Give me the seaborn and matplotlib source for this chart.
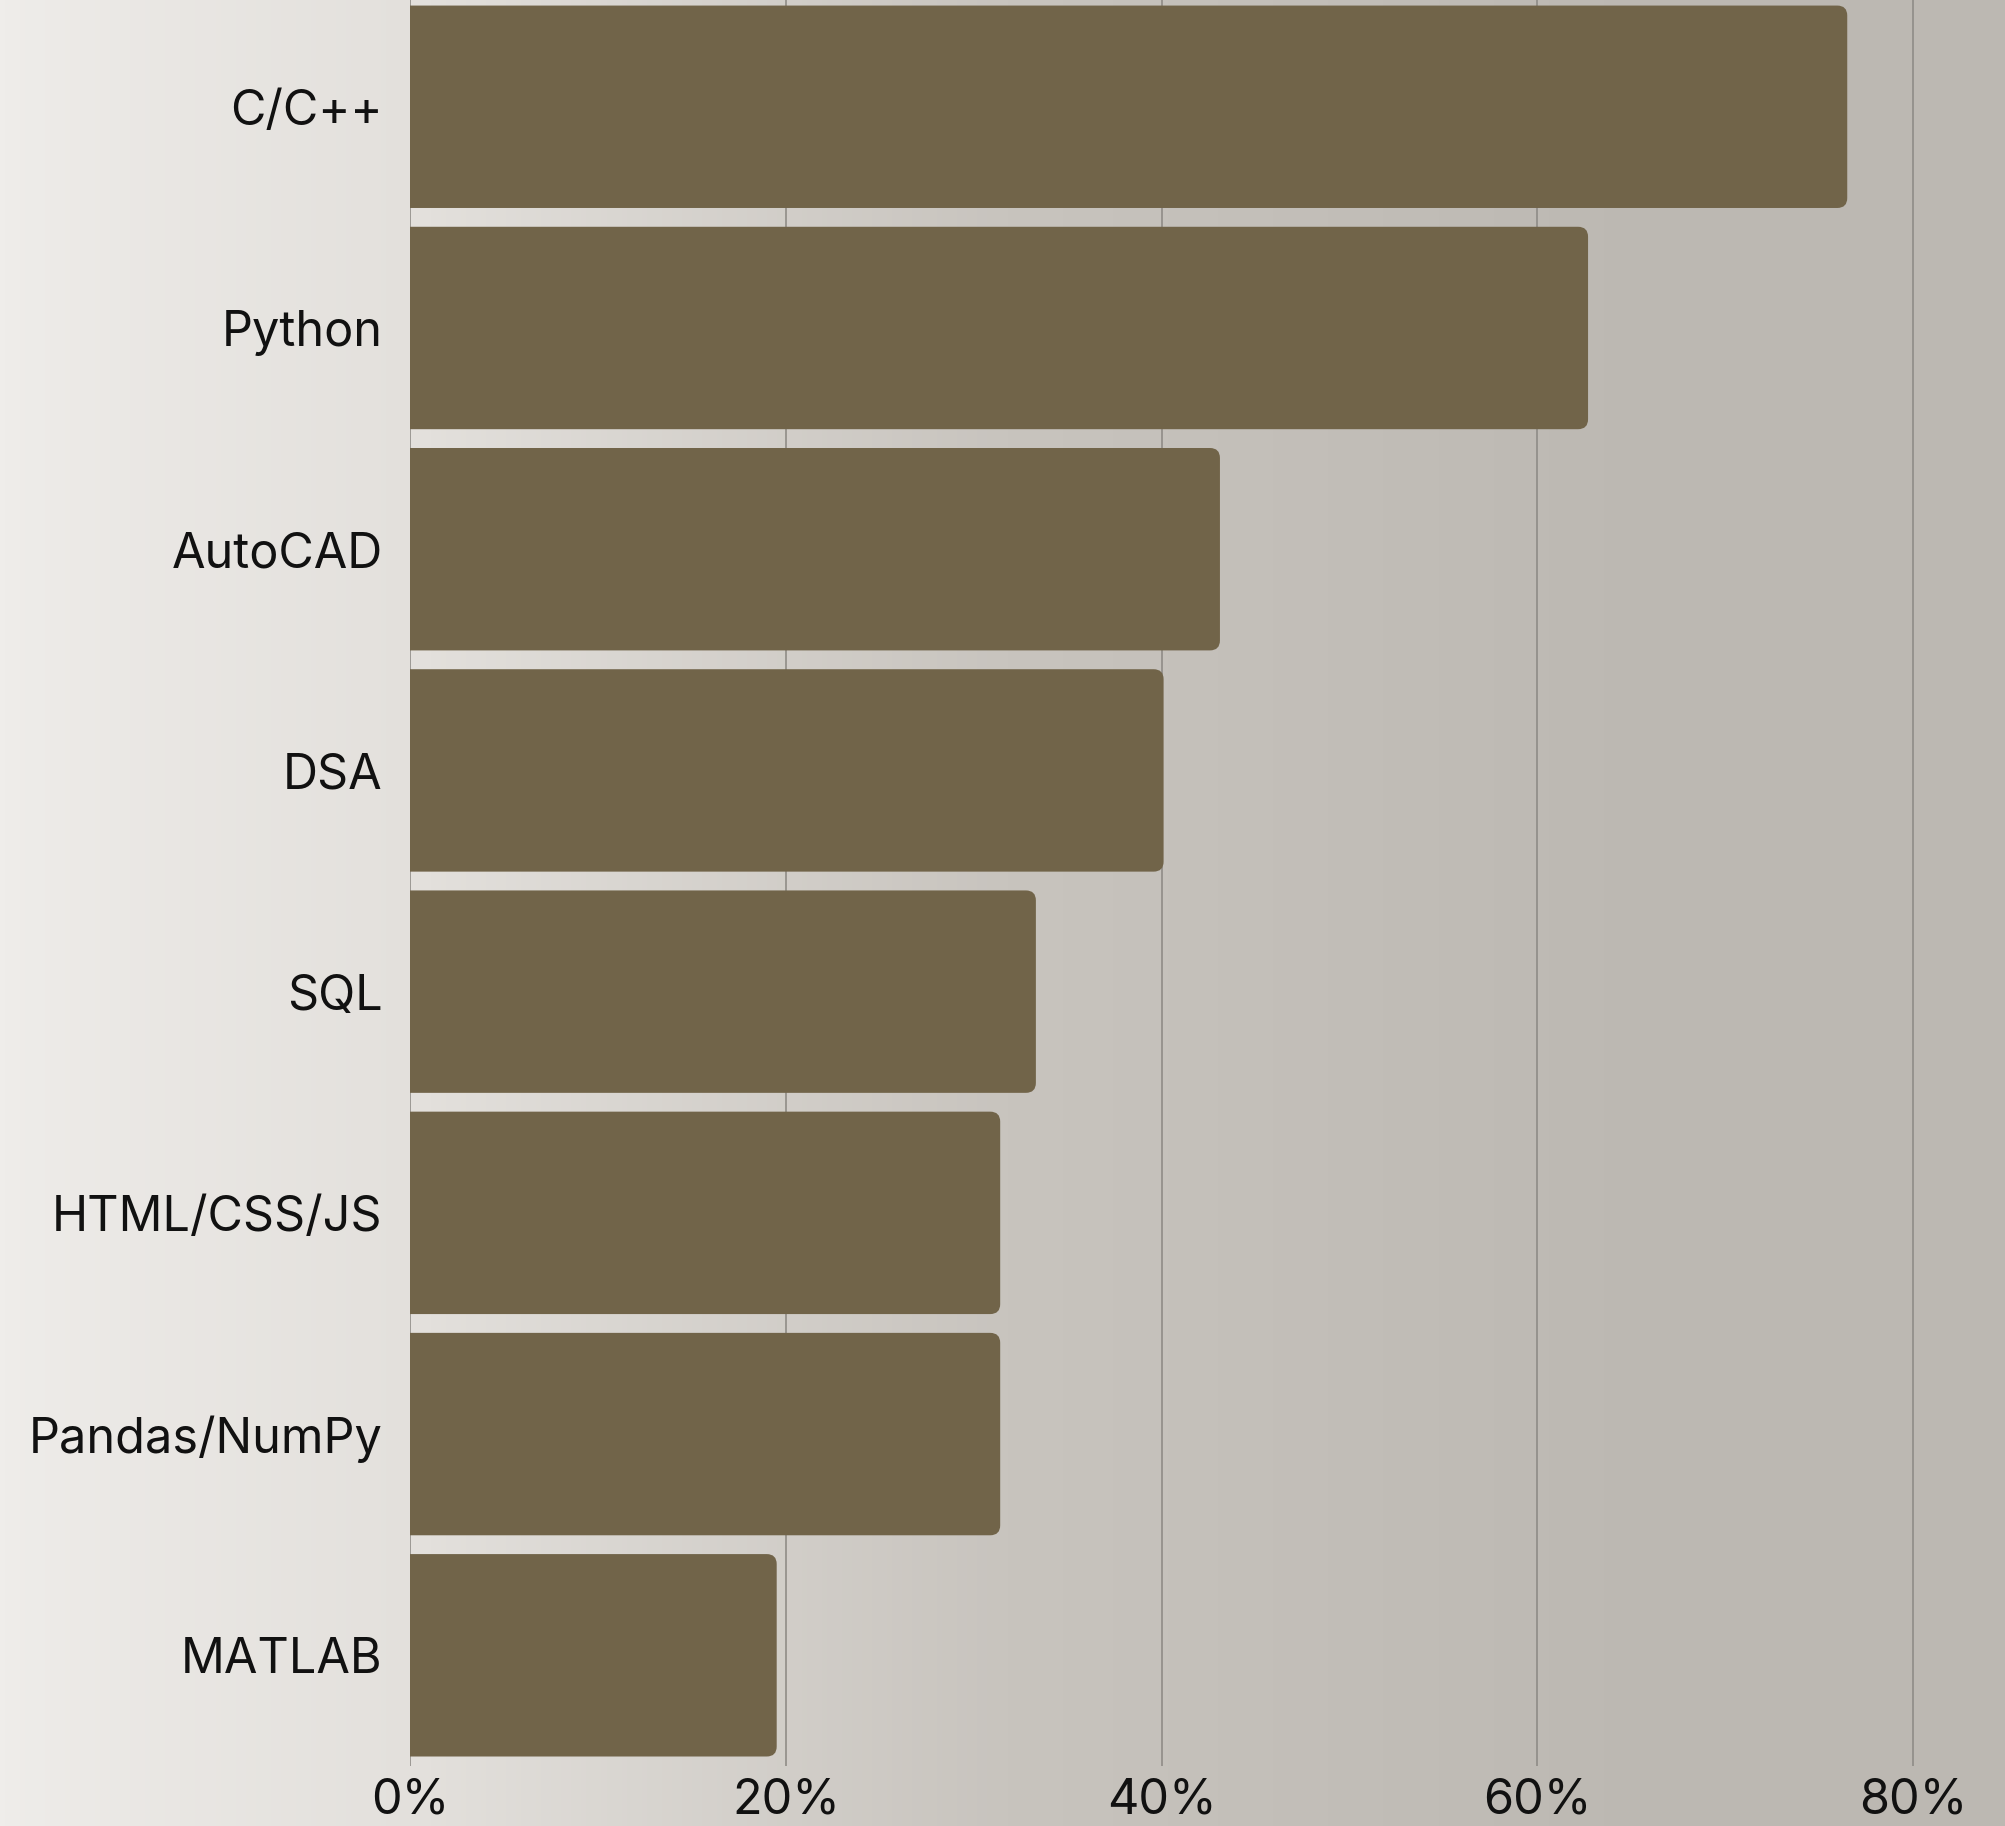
import numpy as np
import pandas as pd
import matplotlib
matplotlib.use("Agg")
import matplotlib.pyplot as plt
import seaborn as sns
from matplotlib.patches import FancyBboxPatch
from matplotlib.colors import LinearSegmentedColormap

# ---- data ----
skills = ["C/C++", "Python", "AutoCAD", "DSA", "SQL", "HTML/CSS/JS", "Pandas/NumPy", "MATLAB"]
share = [76.5, 62.7, 43.1, 40.1, 33.3, 31.4, 31.4, 19.5]
xticks = [0, 20, 40, 60, 80]
xticklabels = ["0%", "20%", "40%", "60%", "80%"]

BAR = "#716449"

sns.set_theme(style="white")
plt.rcParams["font.family"] = ["Inter", "DejaVu Sans"]

W, H = 2005, 1826
fig = plt.figure(figsize=(W / 100, H / 100), dpi=100)

# background gradient
bg = fig.add_axes([0, 0, 1, 1], zorder=-10)
gx = np.linspace(0, 1, 400)
gy = np.linspace(0, 1, 400)
X, Y = np.meshgrid(gx, gy)
val = np.clip(X * 1.2, 0, 1) ** 0.8
cmap = LinearSegmentedColormap.from_list("bgc", ["#efedea", "#e3e0dc", "#c8c4be", "#bcb8b2"])
bg.imshow(val, cmap=cmap, aspect="auto", extent=[0, 1, 0, 1], origin="lower")
bg.axis("off")

top_px, bot_px = -3, 1381
ax = fig.add_axes([321 / 1568, 1 - bot_px / 1428, 1 - 321 / 1568, (bot_px - top_px) / 1428])
ax.patch.set_alpha(0)

df = pd.DataFrame({"skill": skills, "share": share})
sns.barplot(data=df, x="share", y="skill", color=BAR, width=0.915, saturation=1,
            orient="h", ax=ax, zorder=3)

ax.set_xlim(0, 84.9)
ax.set_ylim(7.5, -0.5)

# rounded right corners
axw_px = W * (1 - 321 / 1568)
axh_px = H * (bot_px - top_px) / 1428
xu = 84.9 / axw_px
yu = 8.0 / axh_px
r_px = 10
for p in list(ax.patches):
    x0, y0 = p.get_x(), p.get_y()
    w, h = p.get_width(), p.get_height()
    p.set_visible(False)
    fb = FancyBboxPatch((x0 - 2, y0), w + 2, h,
                        boxstyle=f"round,pad=0,rounding_size={r_px * xu}",
                        mutation_aspect=yu / xu, facecolor=BAR, edgecolor="none",
                        zorder=3)
    ax.add_patch(fb)

ax.set_xticks(xticks)
ax.set_xticklabels(xticklabels)
ax.grid(axis="x", color="#8f8c87", linewidth=1.2, zorder=0)
ax.grid(axis="y", visible=False)
for s in ax.spines.values():
    s.set_visible(False)
ax.set_xlabel("")
ax.set_ylabel("")
ax.tick_params(axis="y", length=0, pad=20, labelsize=35, labelcolor="#111111")
ax.tick_params(axis="x", length=0, pad=8, labelsize=35, labelcolor="#111111")

fig.savefig("out.png", dpi=100)
